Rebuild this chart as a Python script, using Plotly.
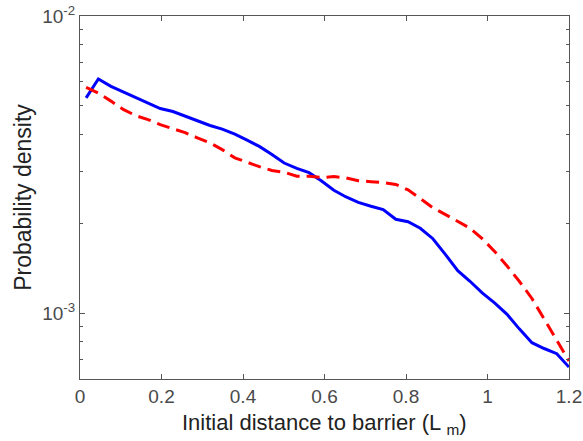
import plotly.graph_objects as go

x_vals = [0.015, 0.045, 0.076, 0.106, 0.137, 0.167, 0.197, 0.228, 0.258, 0.288,
          0.319, 0.349, 0.380, 0.410, 0.440, 0.471, 0.501, 0.532, 0.562, 0.592,
          0.623, 0.653, 0.683, 0.714, 0.744, 0.775, 0.805, 0.835, 0.866, 0.896,
          0.927, 0.957, 0.987, 1.018, 1.048, 1.078, 1.109, 1.139, 1.170, 1.200]

blue_vals = [5.3e-3, 6.14e-3, 5.8e-3, 5.55e-3, 5.33e-3, 5.1e-3, 4.88e-3, 4.77e-3, 4.6e-3, 4.42e-3,
             4.28e-3, 4.16e-3, 4.0e-3, 3.82e-3, 3.64e-3, 3.42e-3, 3.2e-3, 3.07e-3, 2.97e-3, 2.79e-3,
             2.59e-3, 2.46e-3, 2.36e-3, 2.29e-3, 2.23e-3, 2.07e-3, 2.03e-3, 1.93e-3, 1.78e-3, 1.58e-3,
             1.39e-3, 1.28e-3, 1.17e-3, 1.08e-3, 0.99e-3, 8.85e-4, 7.95e-4, 7.6e-4, 7.3e-4, 6.58e-4]

red_vals = [5.75e-3, 5.5e-3, 5.17e-3, 4.85e-3, 4.62e-3, 4.48e-3, 4.31e-3, 4.18e-3, 4.05e-3, 3.89e-3,
            3.74e-3, 3.55e-3, 3.33e-3, 3.22e-3, 3.11e-3, 3.02e-3, 2.98e-3, 2.89e-3, 2.89e-3, 2.86e-3,
            2.88e-3, 2.85e-3, 2.79e-3, 2.77e-3, 2.75e-3, 2.71e-3, 2.6e-3, 2.43e-3, 2.26e-3, 2.15e-3,
            2.03e-3, 1.93e-3, 1.78e-3, 1.61e-3, 1.44e-3, 1.28e-3, 1.12e-3, 9.6e-4, 8.1e-4, 6.9e-4]

x_ticks = [0, 0.2, 0.4, 0.6, 0.8, 1.0, 1.2]
x_tick_labels = ["0", "0.2", "0.4", "0.6", "0.8", "1", "1.2"]
y_ticks = [1e-3, 1e-2]
y_tick_labels = ["10<sup>-3</sup>", "10<sup>-2</sup>"]
y_minor = [6e-4, 7e-4, 8e-4, 9e-4, 2e-3, 3e-3, 4e-3, 5e-3, 6e-3, 7e-3, 8e-3, 9e-3]
x_title = "Initial distance to barrier (L <sub>m</sub>)"
y_title = "Probability density"

axis_col = "#555555"
font_fam = "Liberation Sans, Arial, sans-serif"

fig = go.Figure()
fig.add_trace(go.Scatter(x=x_vals, y=blue_vals, mode="lines",
                         line=dict(color="#0000ff", width=3), showlegend=False))
fig.add_trace(go.Scatter(x=x_vals, y=red_vals, mode="lines",
                         line=dict(color="#ff0000", width=3, dash="13px,7px"), showlegend=False))

fig.update_layout(
    width=583, height=441,
    margin=dict(l=80, r=14, t=16, b=62),
    paper_bgcolor="white", plot_bgcolor="white",
    font=dict(family=font_fam, color="#333333"),
    xaxis=dict(
        range=[0, 1.2], tickvals=x_ticks, ticktext=x_tick_labels, automargin=False,
        showgrid=False, zeroline=False, showline=True, linecolor=axis_col, linewidth=1,
        mirror="ticks", ticks="inside", ticklen=5, tickcolor=axis_col, tickwidth=1,
        tickfont=dict(size=19, color="#4a4a4a"),
    ),
    yaxis=dict(
        type="log", range=[-3.2218, -2], tickvals=y_ticks, ticktext=y_tick_labels, automargin=False,
        showgrid=False, zeroline=False, showline=True, linecolor=axis_col, linewidth=1,
        mirror="ticks", ticks="inside", ticklen=5, tickcolor=axis_col, tickwidth=1,
        tickfont=dict(size=19, color="#4a4a4a"),
        minor=dict(tickvals=y_minor, ticks="inside", ticklen=3, tickcolor=axis_col, showgrid=False),
    ),
    annotations=[
        dict(text=x_title, xref="paper", yref="paper", x=0.5, y=-0.124, xanchor="center", yanchor="middle",
             showarrow=False, font=dict(size=22, color="#222222")),
        dict(text=y_title, xref="paper", yref="paper", x=-0.118, y=0.5, xanchor="center", yanchor="middle",
             textangle=-90, showarrow=False, font=dict(size=23, color="#222222")),
    ],
)

fig.write_html("out.html", config={"displayModeBar": False},
               post_script="document.body.style.margin='0';document.body.style.padding='0';")
